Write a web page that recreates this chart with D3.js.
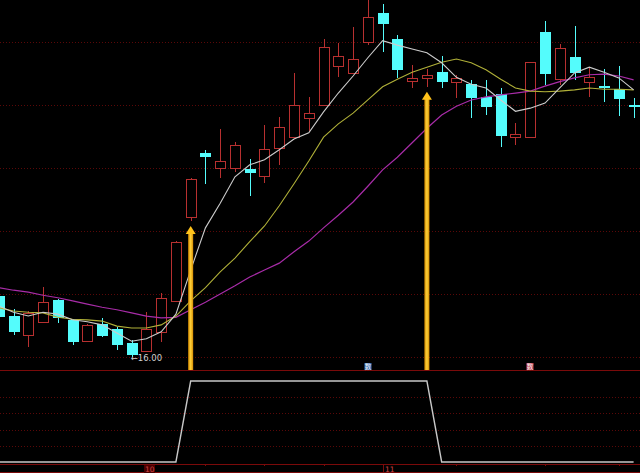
<!DOCTYPE html>
<html><head><meta charset="utf-8">
<script src="https://cdn.jsdelivr.net/npm/d3@7"></script>
<style>html,body{margin:0;padding:0;background:#000;overflow:hidden}</style>
</head><body><svg id="c" width="640" height="473"></svg>
<script>
// ---- data ----
const opens  = [16.97,16.65,16.35,16.56,16.90,16.59,16.25,16.52,16.44,16.22,16.10,16.40,16.89,18.22,19.24,19.00,19.00,18.98,18.87,19.32,19.49,19.79,20.00,20.62,20.51,21.00,21.46,21.05,20.38,20.43,20.52,20.37,20.33,20.13,20.17,19.49,19.49,21.16,20.41,20.76,20.37,20.30,20.25,20.00];
const highs  = [17.03,16.76,16.73,17.11,16.92,16.60,16.52,16.62,16.48,16.27,16.71,17.02,17.84,18.84,19.29,19.62,19.41,19.14,19.68,19.81,20.51,20.13,21.05,20.98,21.24,21.72,21.60,21.11,20.63,20.57,20.78,20.48,20.40,20.40,20.27,19.71,20.69,21.33,20.97,21.25,20.59,20.57,20.62,20.11];
const lows   = [16.59,16.35,16.16,16.54,16.54,16.19,16.24,16.32,16.11,16.00,16.09,16.24,16.88,18.16,18.75,18.84,18.94,18.56,18.76,19.05,19.48,19.59,19.99,20.44,20.50,20.95,20.84,20.43,20.27,20.29,20.27,20.11,19.79,19.84,19.33,19.37,19.48,20.32,20.32,20.40,20.13,20.05,19.83,19.79];
const closes = [16.63,16.40,16.70,16.87,16.62,16.24,16.51,16.33,16.19,16.03,16.44,16.94,17.83,18.83,19.17,19.11,19.37,18.92,19.30,19.65,20.00,19.87,20.92,20.78,20.73,21.40,21.29,20.56,20.43,20.48,20.37,20.43,20.11,19.97,19.51,19.54,20.68,20.49,20.90,20.51,20.44,20.29,20.10,19.98];
const ma5  = [16.81,16.71,16.65,16.71,16.68,16.59,16.56,16.51,16.38,16.25,16.29,16.40,16.68,17.38,18.05,18.44,18.86,19.05,19.13,19.29,19.46,19.56,19.89,20.19,20.46,20.75,21.02,20.95,20.89,20.83,20.67,20.44,20.33,20.27,20.08,19.90,19.95,20.03,20.27,20.51,20.60,20.52,20.43,20.24];
const ma10 = [16.78,16.73,16.71,16.70,16.63,16.60,16.59,16.57,16.49,16.46,16.46,16.51,16.65,16.89,17.10,17.35,17.57,17.83,18.08,18.40,18.75,19.11,19.49,19.70,19.87,20.08,20.29,20.41,20.52,20.60,20.68,20.73,20.67,20.56,20.41,20.27,20.22,20.21,20.22,20.24,20.27,20.25,20.25,20.24];
const ma20 = [17.10,17.06,17.03,16.98,16.94,16.89,16.84,16.79,16.75,16.70,16.65,16.62,16.63,16.75,16.87,17.00,17.13,17.27,17.38,17.49,17.67,17.84,18.05,18.25,18.46,18.71,18.97,19.17,19.40,19.63,19.84,19.98,20.08,20.13,20.16,20.19,20.22,20.30,20.37,20.43,20.48,20.49,20.46,20.40];
const signal = [0,0,0,0,0,0,0,0,0,0,0,0,0,1,1,1,1,1,1,1,1,1,1,1,1,1,1,1,1,1,0,0,0,0,0,0,0,0,0,0,0,0,0,0];
const arrowIdx = [13, 29];
const priceTicks = [16,17,18,19,20,21];
const subTicks = [0.2,0.4,0.6,0.8];
const monthLabels = ["10","11"];
const monthIdx = [10, 26];
const minorTickIdx = [14, 18, 22, 31, 37, 42];
const iconIdx = [25, 36];
const iconText = ["数","数"];
const lowLabel = "16.00";

// ---- layout ----
const W = 640, H = 473, mainBottom = 370, subBottom = 464;
const svg = d3.select("#c");
svg.append("rect").attr("width",W).attr("height",H).attr("fill","#000");

const defs = svg.append("defs");
defs.append("clipPath").attr("id","mainClip").append("rect").attr("x",0).attr("y",0).attr("width",W).attr("height",mainBottom);
const g = defs.append("linearGradient").attr("id","arrowGrad").attr("x1","0").attr("x2","1").attr("y1","0").attr("y2","0");
g.append("stop").attr("offset","0%").attr("stop-color","#d48a00");
g.append("stop").attr("offset","50%").attr("stop-color","#ffd23a");
g.append("stop").attr("offset","100%").attr("stop-color","#d48a00");

const x = d3.scaleLinear().domain([1,43]).range([13.5,633.6]);
const y = d3.scaleLinear().domain([16,21]).range([357,42]);
const ys = d3.scaleLinear().domain([0,1]).range([462,381]);

const gridCol = "#5a0808", sepCol = "#7a0a0a";
// grid lines main
svg.append("g").selectAll("line").data(priceTicks).join("line")
  .attr("x1",0).attr("x2",W)
  .attr("y1",d=>Math.round(y(d))+0.5).attr("y2",d=>Math.round(y(d))+0.5)
  .attr("stroke",gridCol).attr("stroke-dasharray","1,2").attr("stroke-width",1);
// sub grid
svg.append("g").selectAll("line").data(subTicks).join("line")
  .attr("x1",0).attr("x2",W)
  .attr("y1",d=>Math.round(ys(d))+0.5).attr("y2",d=>Math.round(ys(d))+0.5)
  .attr("stroke",gridCol).attr("stroke-dasharray","1,2").attr("stroke-width",1);
// separators
[mainBottom, subBottom, H-1].forEach(v=>{
  svg.append("line").attr("x1",0).attr("x2",W).attr("y1",v+0.5).attr("y2",v+0.5)
    .attr("stroke",sepCol).attr("stroke-width",1);
});

const main = svg.append("g").attr("clip-path","url(#mainClip)");
const idx = d3.range(opens.length);
const RED = "#b83030", CYAN = "#54fcfc";

// candles
idx.forEach(i=>{
  const cx = Math.round(x(i));
  const up = closes[i] >= opens[i];
  const col = up ? RED : CYAN;
  const yt = Math.round(y(Math.max(opens[i],closes[i])));
  const yb = Math.round(y(Math.min(opens[i],closes[i])));
  const yh = Math.round(y(highs[i])), yl = Math.round(y(lows[i]));
  if (up) {
    if (yh < yt) main.append("line").attr("x1",cx+0.5).attr("x2",cx+0.5).attr("y1",yh).attr("y2",yt).attr("stroke",col);
    if (yl > yb) main.append("line").attr("x1",cx+0.5).attr("x2",cx+0.5).attr("y1",yb).attr("y2",yl).attr("stroke",col);
    main.append("rect").attr("x",cx-5+0.5).attr("y",yt+0.5).attr("width",10).attr("height",Math.max(1,yb-yt))
      .attr("fill","#000").attr("stroke",col).attr("stroke-width",1);
  } else {
    main.append("line").attr("x1",cx+0.5).attr("x2",cx+0.5).attr("y1",yh).attr("y2",yl).attr("stroke",col);
    main.append("rect").attr("x",cx-5).attr("y",yt).attr("width",11).attr("height",Math.max(2,yb-yt)).attr("fill",col);
  }
});

// moving averages
const line = arr => d3.line().x((d,i)=>x(i)).y(d=>y(d))(arr);
main.append("path").attr("d",line(ma20)).attr("fill","none").attr("stroke","#a82ca8").attr("stroke-width",1.2);
main.append("path").attr("d",line(ma10)).attr("fill","none").attr("stroke","#b0b038").attr("stroke-width",1.1);
main.append("path").attr("d",line(ma5)).attr("fill","none").attr("stroke","#cccccc").attr("stroke-width",1.1);

// arrows
arrowIdx.forEach(i=>{
  const cx = x(i);
  const tip = y(lows[i]) + 5;
  svg.append("rect").attr("x",cx-2.5).attr("y",tip+6).attr("width",5).attr("height",mainBottom-(tip+6))
    .attr("fill","url(#arrowGrad)");
  svg.append("path").attr("d",`M${cx},${tip} L${cx-5},${tip+8} L${cx+5},${tip+8} Z`).attr("fill","#ffc21a");
});

// low label
svg.append("text").attr("x",x(9)-1).attr("y",y(16.00)+4)
  .attr("font-family","DejaVu Sans, sans-serif").attr("font-size",8.5).attr("fill","#d0d0d0")
  .text("\u2190" + lowLabel);

// icons
iconIdx.forEach((i,k)=>{
  const cx = Math.round(x(i));
  const col = k===0 ? "#3f72b8" : "#c8485a";
  svg.append("rect").attr("x",cx-3.5).attr("y",363).attr("width",7).attr("height",7).attr("fill",col);
  svg.append("text").attr("x",cx).attr("y",369.2).attr("text-anchor","middle")
    .attr("font-family","Noto Sans CJK SC").attr("font-size",6.5).attr("fill","#f0f0f0").text(iconText[k]);
});

// sub-panel signal line
svg.append("path").attr("d",d3.line().x((d,i)=>x(i)).y(d=>ys(d))(signal))
  .attr("fill","none").attr("stroke","#c8c8c8").attr("stroke-width",1.4);

// bottom axis: month labels and minor ticks
minorTickIdx.forEach(i=>{
  svg.append("line").attr("x1",Math.round(x(i))+0.5).attr("x2",Math.round(x(i))+0.5).attr("y1",subBottom).attr("y2",subBottom+2)
    .attr("stroke",sepCol);
});
monthIdx.forEach((i,k)=>{
  const px = Math.round(x(i));
  if (k===0) {
    svg.append("rect").attr("x",px-2).attr("y",subBottom+1).attr("width",11).attr("height",8).attr("fill","#4a0000");
    svg.append("text").attr("x",px-1).attr("y",subBottom+8).attr("font-family","DejaVu Sans, sans-serif")
      .attr("font-size",7.5).attr("fill","#d04444").text(monthLabels[k]);
  } else {
    svg.append("line").attr("x1",px+0.5).attr("x2",px+0.5).attr("y1",subBottom).attr("y2",H-1).attr("stroke",sepCol);
    svg.append("text").attr("x",px+2).attr("y",subBottom+8).attr("font-family","DejaVu Sans, sans-serif")
      .attr("font-size",7.5).attr("fill","#d04444").text(monthLabels[k]);
  }
});
</script></body></html>
